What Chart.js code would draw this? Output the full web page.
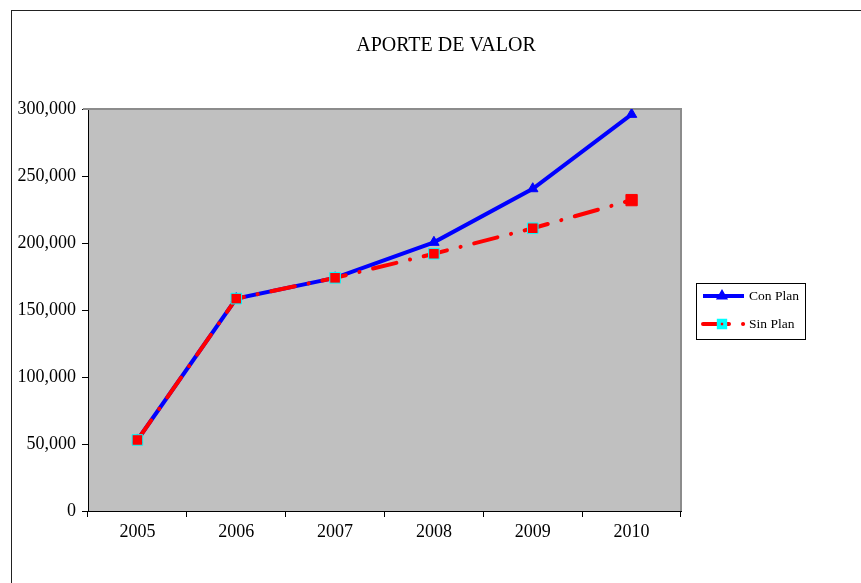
<!DOCTYPE html>
<html>
<head>
<meta charset="utf-8">
<title>Aporte de Valor</title>
<script src="https://cdn.jsdelivr.net/npm/chart.js@4/dist/chart.umd.min.js"></script>
<style>
  html, body { margin: 0; padding: 0; background: #fff; overflow: hidden; }
  canvas { display: block; }
</style>
</head>
<body>
<canvas id="chart" width="861" height="583"></canvas>
<script>
const years = ["2005", "2006", "2007", "2008", "2009", "2010"];
const conPlan = [53000, 158500, 174000, 200500, 240500, 296000];
const sinPlan = [53000, 158500, 174000, 192000, 211000, 232000];
const seriesNames = ["Con Plan", "Sin Plan"];
const chartTitle = "APORTE DE VALOR";
const yMax = 300000;
const yStep = 50000;

const serif = "'Liberation Serif', 'Times New Roman', serif";
const sinDash = [24, 14, 0.1, 14];

// Frame, title and plot background
const backdrop = {
  id: "backdrop",
  beforeDraw(chart) {
    const { ctx, chartArea: a } = chart;
    ctx.save();
    ctx.fillStyle = "#fff";
    ctx.fillRect(0, 0, chart.width, chart.height);
    ctx.strokeStyle = "#222";
    ctx.lineWidth = 1;
    ctx.strokeRect(11.5, 10.5, chart.width + 20, chart.height + 20);
    ctx.fillStyle = "#c0c0c0";
    ctx.fillRect(a.left, a.top, a.right - a.left, a.bottom - a.top);
    ctx.fillStyle = "#000";
    ctx.font = "20px " + serif;
    ctx.textAlign = "center";
    ctx.textBaseline = "middle";
    ctx.fillText(chartTitle, 446, 46);
    ctx.restore();
  },
  beforeDatasetsDraw(chart) {
    const { ctx, chartArea: a } = chart;
    ctx.save();
    ctx.strokeStyle = "#8c8c8c";
    ctx.lineWidth = 2;
    ctx.beginPath();
    ctx.moveTo(a.left - 5, a.top);
    ctx.lineTo(a.right, a.top);
    ctx.lineTo(a.right, a.bottom);
    ctx.stroke();
    ctx.restore();
  }
};

// Boxed legend at right
const boxLegend = {
  id: "boxLegend",
  afterDraw(chart) {
    const { ctx } = chart;
    const bx = 696, by = 283, bw = 109, bh = 56;
    ctx.save();
    ctx.fillStyle = "#fff";
    ctx.fillRect(bx, by, bw, bh);
    ctx.strokeStyle = "#000";
    ctx.lineWidth = 1;
    ctx.strokeRect(bx + 0.5, by + 0.5, bw, bh);
    chart.data.datasets.forEach((ds, i) => {
      const y = [296, 324][i];
      ctx.strokeStyle = ds.borderColor;
      ctx.lineWidth = ds.borderWidth;
      ctx.lineCap = ds.borderCapStyle || "butt";
      ctx.setLineDash(ds.borderDash ? [26, 14, 0.1, 14] : []);
      ctx.beginPath();
      ctx.moveTo(703, y);
      ctx.lineTo(744, y);
      ctx.stroke();
      ctx.setLineDash([]);
      ctx.fillStyle = ds.pointBackgroundColor;
      const bc = Array.isArray(ds.pointBorderColor) ? ds.pointBorderColor[0] : ds.pointBorderColor;
      ctx.strokeStyle = bc;
      Chart.helpers.drawPoint(ctx, {
        pointStyle: ds.pointStyle,
        radius: ds.pointStyle === "rect" ? 4.5 : 3,
        rotation: 0,
        borderWidth: 1
      }, 722, y);
      ctx.fillStyle = "#000";
      ctx.font = "13.5px " + serif;
      ctx.textBaseline = "middle";
      ctx.textAlign = "left";
      ctx.fillText(ds.label, 749, y);
    });
    ctx.restore();
  }
};

new Chart(document.getElementById("chart"), {
  type: "line",
  data: {
    labels: years,
    datasets: [
      {
        label: seriesNames[0],
        data: conPlan,
        borderColor: "#0000ff",
        borderWidth: 4,
        tension: 0,
        pointStyle: "triangle",
        pointRadius: 6,
        pointBackgroundColor: "#0000ff",
        pointBorderColor: "#0000ff",
        pointBorderWidth: 1,
        order: 2
      },
      {
        label: seriesNames[1],
        data: sinPlan,
        borderColor: "#ff0000",
        borderWidth: 4,
        borderDash: sinDash,
        borderCapStyle: "round",
        tension: 0,
        pointStyle: "rect",
        pointRadius: [7.5, 7.5, 7.5, 7.5, 7.5, 8],
        pointBackgroundColor: "#ff0000",
        pointBorderColor: ["#00ffff", "#00ffff", "#00ffff", "#00ffff", "#00ffff", "#ff0000"],
        pointBorderWidth: 1,
        order: 1
      }
    ]
  },
  options: {
    responsive: false,
    animation: false,
    devicePixelRatio: 1,
    layout: { padding: { left: 0, right: 180, top: 109, bottom: 0 } },
    plugins: {
      legend: { display: false },
      tooltip: { enabled: false },
      title: { display: false }
    },
    scales: {
      x: {
        offset: true,
        grid: { display: true, drawOnChartArea: false, drawTicks: true, tickLength: 6, color: "#000", offset: true },
        border: { display: true, color: "#000", width: 1 },
        ticks: { color: "#000", font: { family: serif, size: 18 }, padding: 4, maxRotation: 0 },
        afterFit(scale) { scale.height = 72; }
      },
      y: {
        min: 0,
        max: yMax,
        grid: { display: true, drawOnChartArea: false, drawTicks: true, tickLength: 6, color: "#000" },
        border: { display: true, color: "#000", width: 1 },
        ticks: {
          stepSize: yStep,
          color: "#000",
          font: { family: serif, size: 18 },
          padding: 6,
          callback: v => v.toLocaleString("en-US")
        },
        afterFit(scale) { scale.width = 88; }
      }
    }
  },
  plugins: [backdrop, boxLegend]
});
</script>
</body>
</html>
